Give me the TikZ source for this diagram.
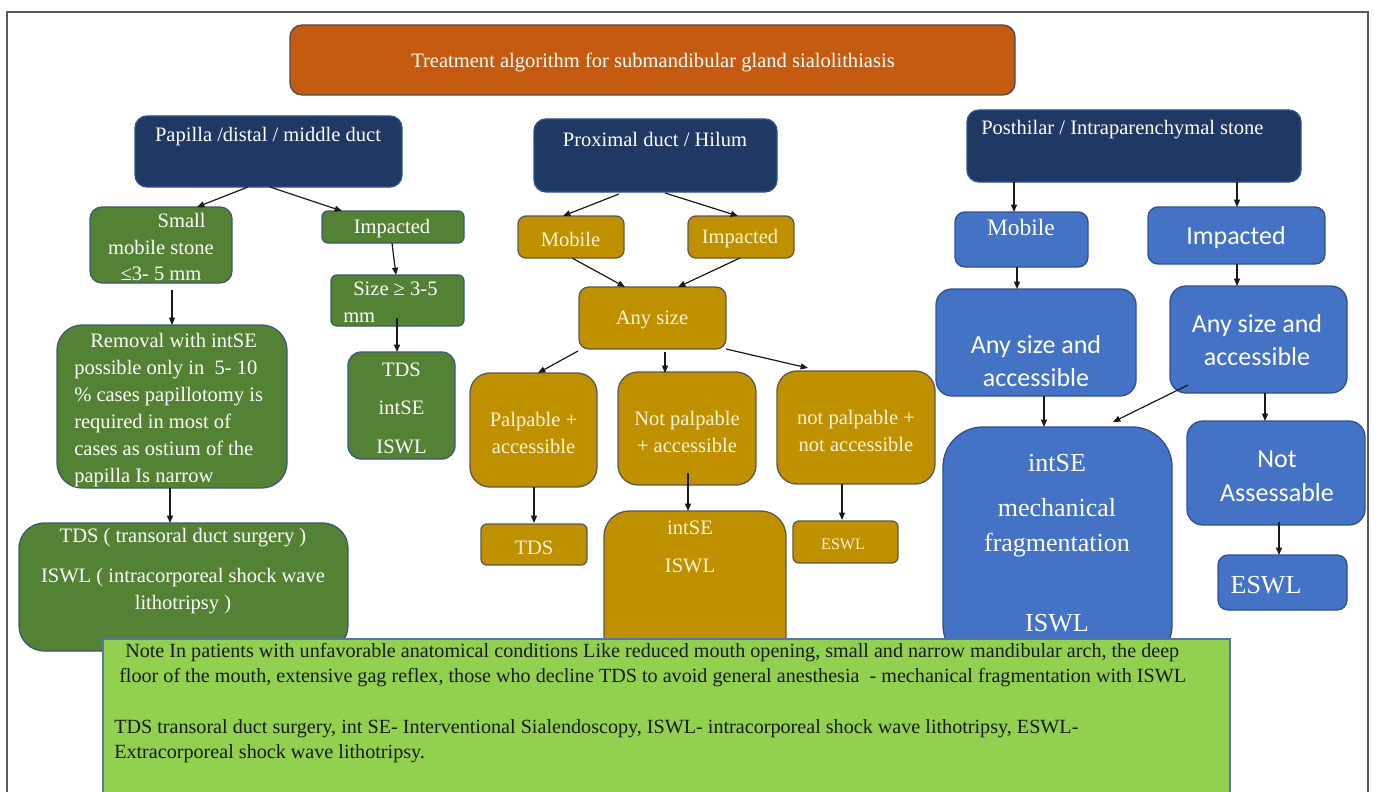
\documentclass[tikz,border=0pt]{standalone}
\usepackage{fontspec}
\setmainfont{Liberation Serif}
\newfontfamily\calibfont{Carlito}
\usetikzlibrary{arrows.meta,calc,fit}
\definecolor{orng}{HTML}{C55A11}
\definecolor{navy}{HTML}{1F3864}
\definecolor{grn}{HTML}{548235}
\definecolor{gld}{HTML}{BF9000}
\definecolor{blu}{HTML}{4472C4}
\definecolor{lgrn}{HTML}{92D050}
\definecolor{bord}{HTML}{2F528F}
\definecolor{gbord}{HTML}{3E5A6E}
\definecolor{goldbord}{HTML}{5E5A4E}
\definecolor{cream}{HTML}{FFF5D6}
\newcommand{\fntA}{\fontsize{15.4}{20.2}\selectfont}
\newcommand{\fntN}{\fontsize{15.1}{18.75}\selectfont}
\newcommand{\fntL}{\fontsize{19.5}{26.25}\selectfont}
\newcommand{\fntC}{\calibfont\fontsize{19.5}{24.5}\selectfont}
\newcommand{\fntM}{\fontsize{17.6}{21}\selectfont}
\newcommand{\fntS}{\fontsize{12}{14}\selectfont}
\begin{document}
\begin{tikzpicture}[x=0.75pt,y=-0.75pt,
  bx/.style={draw=bord, line width=1pt, inner sep=0pt, outer sep=0pt},
  gbx/.style={bx, fill=grn, draw=gbord},
  obx/.style={bx, fill=gld, draw=goldbord},
  bbx/.style={bx, fill=blu, draw=bord},
  nbx/.style={bx, fill=navy, draw=bord},
  tw/.style={text=white, inner sep=0pt, align=center, font=\fntA},
  tc/.style={tw, text=cream},
  arr/.style={-{Triangle[length=5.5pt,width=4.5pt]}, line width=0.9pt, draw=black!90}]
\fill[white] (0,0) rectangle (1375,792);
\useasboundingbox (0,0) rectangle (1375,792);
\draw[line width=1.2pt, draw=black!65] (7,800) -- (7,12) -- (1368,12) -- (1368,800);

% title
\node[bx, fill=orng, draw=black!70, rounded corners=9pt, fit={(290,25) (1015,95)}] (ttl) {};
\node[tw] (ttlt) at (653,62) {Treatment algorithm for submandibular gland sialolithiasis};

% column 1
\node[nbx, rounded corners=9pt, fit={(135,116) (402,187)}] (pap) {};
\node[tw] (papt) at (268,137) {Papilla /distal / middle duct};
\node[gbx, rounded corners=9pt, fit={(90,207) (232,283)}] (sms) {};
\node[tw] (smst) at (161,247) {\hspace*{31pt}Small\\mobile stone\\≤3- 5 mm};
\node[gbx, rounded corners=4.5pt, fit={(322,211) (464,243)}] (impg) {};
\node[tw] (impgt) at (392,229) {Impacted};
\node[gbx, rounded corners=4.5pt, fit={(331,275) (464,326)}] (size) {};
\node[tw, align=left, anchor=west] (sizet) at (343,302) {\hspace*{7.5pt}Size ≥ 3-5\\mm};
\node[gbx, rounded corners=10pt, fit={(348,352) (455,459)}] (tis) {};
\node[tw] (tist) at (401.5,408) {TDS\\[9pt]intSE\\[8.5pt]ISWL};
\node[gbx, rounded corners=19pt, fit={(57,325) (287,488)}] (rem) {};
\node[tw, align=left, anchor=west] (remt) at (74,410) {\hspace*{12pt}Removal with intSE\\possible only in~ 5- 10\\\% cases papillotomy is\\required in most of\\cases as ostium of the\\papilla Is narrow};
\node[gbx, rounded corners=19pt, fit={(19,523) (348,651)}] (tdsl) {};
\node[tw] (tdslt) at (183,571) {TDS ( transoral duct surgery )\\[9.8pt]ISWL ( intracorporeal shock wave\\lithotripsy )};

% column 2
\node[nbx, rounded corners=9pt, fit={(534,119) (777,192)}] (prox) {};
\node[tw] (proxt) at (655,139) {Proximal duct / Hilum};
\node[obx, rounded corners=6pt, fit={(518,216) (624,258)}] (mobg) {};
\node[tc] (mobgt) at (570.5,239) {Mobile};
\node[obx, rounded corners=6pt, fit={(688,216) (794,258)}] (impgo) {};
\node[tc] (impgot) at (740,239) {Impacted};
\node[obx, rounded corners=7.5pt, fit={(579,287) (726,349)}] (any) {};
\node[tc] (anyt) at (652,320) {Any size};
\node[obx, rounded corners=15pt, fit={(470,373) (597,487)}] (palp) {};
\node[tc] (palpt) at (533.5,433) {Palpable +\\accessible};
\node[obx, rounded corners=15pt, fit={(618,372) (756,485)}] (npal) {};
\node[tc] (npalt) at (687,432) {Not palpable\\+ accessible};
\node[obx, rounded corners=15pt, fit={(777,371) (935,484)}] (nna) {};
\node[tc] (nnat) at (856,431) {not palpable +\\not accessible};
\node[obx, rounded corners=4.5pt, fit={(481,524) (587,565)}] (tdsg) {};
\node[tc] (tdsgt) at (534,548) {TDS};
\node[obx, rounded corners=19pt, fit={(604,511) (786,665)}] (isg) {};
\node[tc] (isgt) at (690,547) {intSE\\[8.3pt]ISWL};
\node[obx, rounded corners=4.5pt, fit={(793,521) (898,563)}] (esg) {};
\node[tc, font=\fntS] (esgt) at (843,544) {ESWL};

% column 3
\node[nbx, rounded corners=9pt, fit={(967,110) (1301,182)}] (post) {};
\node[tw, anchor=west] (postt) at (981,130) {Posthilar / Intraparenchymal stone};
\node[bbx, rounded corners=7.5pt, fit={(955,212) (1088,267)}] (mobb) {};
\node[tw, font=\fntM] (mobbt) at (1021,227) {Mobile};
\node[bbx, rounded corners=7.5pt, fit={(1148,207) (1325,264)}] (impb) {};
\node[tw, font=\fntC] (impbt) at (1236,238) {Impacted};
\node[bbx, rounded corners=12pt, fit={(936,289) (1136,396)}] (anyl) {};
\node[tw, font=\fntC] (anylt) at (1036,361) {Any size and\\accessible};
\node[bbx, rounded corners=12pt, fit={(1170,286) (1347,393)}] (anyr) {};
\node[tw, font=\fntC] (anyrt) at (1257,340) {Any size and\\accessible};
\node[bbx, rounded corners=30pt, fit={(943,427) (1172,665)}] (isb) {};
\node[tw, font=\fntL] (isbt) at (1057,543) {intSE\\[7.5pt]mechanical\\fragmentation\\[33.75pt]ISWL};
\node[bbx, rounded corners=12pt, fit={(1187,421) (1365,525)}] (notb) {};
\node[tw, font=\fntC] (notbt) at (1277,476) {Not\\[1pt]Assessable};
\node[bbx, rounded corners=7.5pt, fit={(1218,555) (1347,610)}] (eswb) {};
\node[tw, font=\fntL] (eswbt) at (1266,585) {ESWL};

% arrows column 1
\draw[arr] ($(pap.south west)+(113,0)$) -- ($(sms.north west)+(107,0)$);
\draw[arr] ($(pap.south west)+(135,0)$) -- ($(impg.north west)+(20,0)$);
\draw[arr] ($(sms.south west)+(82,7)$) -- ($(rem.north west)+(115,0)$);
\draw[arr] ($(impg.south west)+(70,0)$) -- ($(size.north west)+(65,0)$);
\draw[arr] ($(size.south west)+(66,-8)$) -- ($(tis.north west)+(49,0)$);
\draw[arr] ($(rem.south west)+(113,0)$) -- ($(tdsl.north west)+(151,0)$);
% arrows column 2
\draw[arr] ($(prox.south west)+(85,2)$) -- ($(mobg.north west)+(45,0)$);
\draw[arr] ($(prox.south west)+(131,1)$) -- ($(impgo.north west)+(50,0)$);
\draw[arr] ($(mobg.south west)+(54,0)$) -- ($(any.north west)+(46,0)$);
\draw[arr] ($(impgo.south west)+(52,0)$) -- ($(any.north west)+(99,0)$);
\draw[arr] ($(any.south west)+(-1,2)$) -- ($(palp.north west)+(68,0)$);
\draw[arr] ($(any.south west)+(86,3)$) -- ($(npal.north west)+(47,1)$);
\draw[arr] (any.south east) -- ($(nna.north west)+(31,-3)$);
\draw[arr] ($(palp.south west)+(64,0)$) -- ($(tdsg.north west)+(53,-1)$);
\draw[arr] ($(npal.south west)+(70,-12)$) -- ($(isg.north west)+(84,0)$);
\draw[arr] ($(nna.south west)+(65,0)$) -- ($(esg.north west)+(49,-1)$);
% arrows column 3
\draw[arr] ($(post.south west)+(47,0)$) -- ($(mobb.north west)+(59,0)$);
\draw[arr] ($(post.south west)+(270,0)$) -- ($(impb.north west)+(89,0)$);
\draw[arr] ($(mobb.south west)+(62,0)$) -- ($(anyl.north west)+(81,0)$);
\draw[arr] ($(impb.south west)+(89,0)$) -- ($(anyr.north west)+(67,0)$);
\draw[arr] ($(anyl.south west)+(108,0)$) -- ($(isb.north west)+(101,0)$);
\draw[arr] ($(anyr.south west)+(18,-8)$) -- ($(isb.north west)+(170,-5)$);
\draw[arr] ($(anyr.south west)+(95,0)$) -- ($(notb.north west)+(78,0)$);
\draw[arr] ($(notb.south west)+(92,-3)$) -- ($(eswb.north west)+(61,0)$);

% note
\node[bx, fill=lgrn, draw=bord!80, line width=0.8pt, fit={(103,639) (1230,800)}] (note) {};
\node[inner sep=0pt, align=left, anchor=north west, text=black!90, font=\fntN] (notet) at (114,643) {\hspace*{8.25pt}Note In patients with unfavorable anatomical conditions Like reduced mouth opening, small and narrow mandibular arch, the deep\\\hspace*{3.75pt}floor of the mouth, extensive gag reflex, those who decline TDS to avoid general anesthesia~ - mechanical fragmentation with ISWL\\[19.5pt]TDS transoral duct surgery, int SE- Interventional Sialendoscopy, ISWL- intracorporeal shock wave lithotripsy, ESWL-\\Extracorporeal shock wave lithotripsy.};
\end{tikzpicture}
\end{document}
